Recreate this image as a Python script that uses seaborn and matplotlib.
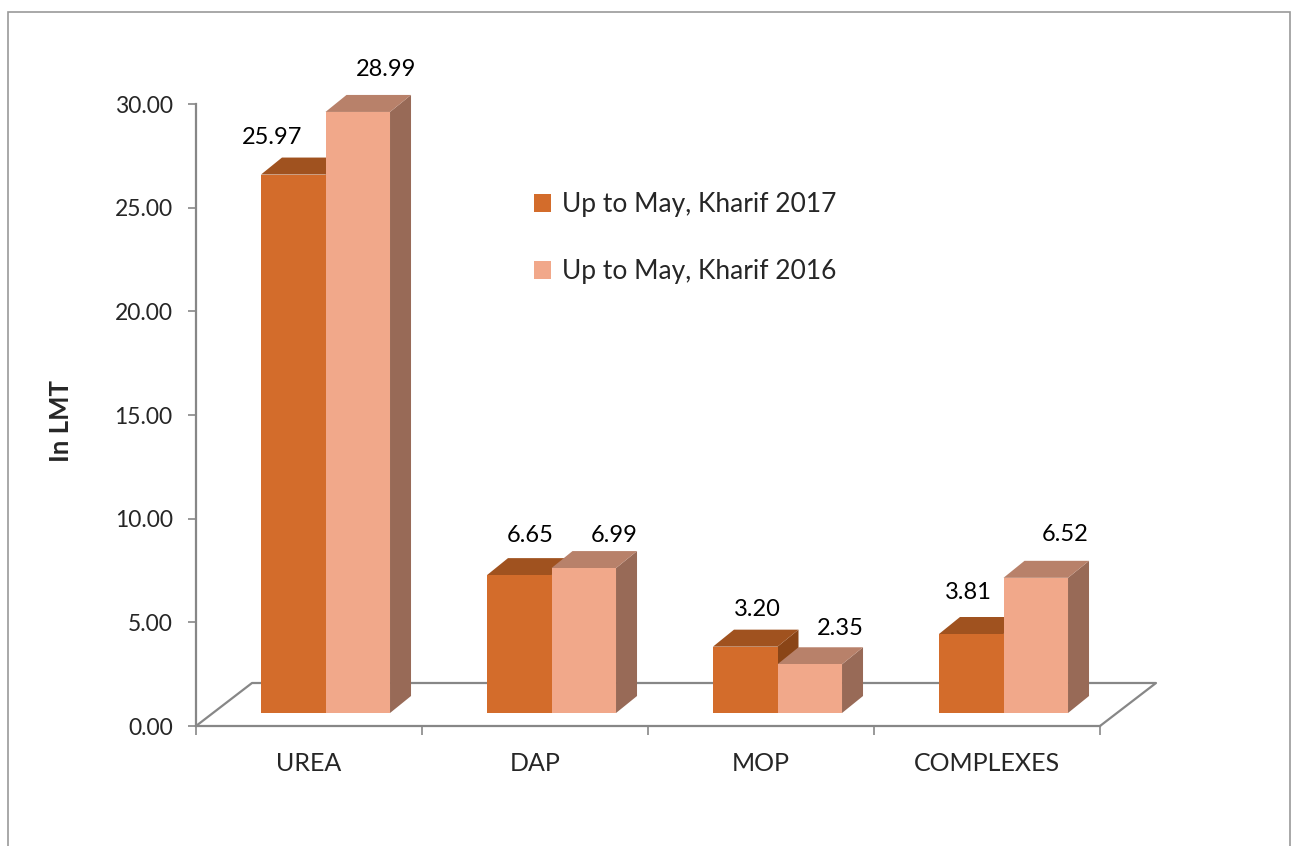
import matplotlib
matplotlib.use('Agg')
import matplotlib.pyplot as plt
import seaborn as sns
import pandas as pd
from matplotlib.patches import Polygon, Rectangle

# data
categories = ['UREA', 'DAP', 'MOP', 'COMPLEXES']
series_names = ['Up to May, Kharif 2017', 'Up to May, Kharif 2016']
kharif_2017 = [25.97, 6.65, 3.20, 3.81]
kharif_2016 = [28.99, 6.99, 2.35, 6.52]
y_ticks = [0, 5, 10, 15, 20, 25, 30]

# where excel dropped each value label, pixels from the bar's front top centre
label_nudge = [
    [(-21, 37), (11, 40), (12, 37), (-3, 42)],
    [(28, 42), (30, 33), (31, 36), (29, 43)],
]

FRONT = ['#D36C2B', '#F1A88A']
TOP = ['#A0521F', '#B8816A']
SIDE = ['#8A4517', '#986A57']
GREY = '#878787'

W, H = 1298, 846
sns.set_style('white')
plt.rcParams['font.family'] = ['Lato', 'DejaVu Sans']

fig = plt.figure(figsize=(W / 100, H / 100), dpi=100)
ax = fig.add_axes([196 / W, (H - 726) / H, 904 / W, 622 / H])

df = pd.DataFrame({
    'category': categories * 2,
    'value': kharif_2017 + kharif_2016,
    'series': [series_names[0]] * 4 + [series_names[1]] * 4,
})
sns.barplot(data=df, x='category', y='value', hue='series', palette=FRONT,
            width=0.571, saturation=1, linewidth=0, ax=ax)
ax.set_xlim(-0.5, 3.5)
ax.set_ylim(0, 30)

# pixel -> data units
ux = 4 / 904
uy = 30 / 622
sx, sy = 16.5 * ux, 13 * uy     # bars sit a bit back on the floor
dx, dy = 21 * ux, 17 * uy       # depth of each bar
fx, fy = 56 * ux, 43 * uy       # depth of the floor

# floor
ax.plot([-0.5, -0.5 + fx, 3.5 + fx, 3.5], [0, fy, fy, 0], color=GREY, lw=1.6,
        clip_on=False, zorder=1)

for k, cont in enumerate(ax.containers):
    for i, bar in enumerate(cont):
        z = 2 + 0.1 * (2 * i + k)
        x0 = bar.get_x() + sx
        w = bar.get_width()
        h = bar.get_height()
        bar.set_x(x0)
        bar.set_y(sy)
        bar.set_clip_on(False)
        bar.set_zorder(z + 0.05)
        side = [(x0 + w, sy), (x0 + w + dx, sy + dy), (x0 + w + dx, sy + h + dy), (x0 + w, sy + h)]
        top = [(x0, sy + h), (x0 + w, sy + h), (x0 + w + dx, sy + h + dy), (x0 + dx, sy + h + dy)]
        ax.add_patch(Polygon(side, closed=True, facecolor=SIDE[k], edgecolor='none', zorder=z, clip_on=False))
        ax.add_patch(Polygon(top, closed=True, facecolor=TOP[k], edgecolor='none', zorder=z + 0.01, clip_on=False))
        ax.annotate(f'{h:.2f}', xy=(x0 + w / 2, sy + h), xytext=label_nudge[k][i],
                    textcoords='offset pixels', ha='center', va='center',
                    fontsize=17, color='black', annotation_clip=False, zorder=10)

# axes styling
for s in ['top', 'right']:
    ax.spines[s].set_visible(False)
for s in ['left', 'bottom']:
    ax.spines[s].set_color(GREY)
    ax.spines[s].set_linewidth(1.6)
    ax.spines[s].set_zorder(1)

ax.set_yticks(y_ticks)
ax.set_yticklabels([f'{v:.2f}' for v in y_ticks])
ax.tick_params(axis='y', direction='out', length=5.8, width=1.2, color=GREY,
               pad=11, labelsize=16.5, left=True)
ax.set_xticks(range(len(categories)))
ax.set_xticklabels(categories)
ax.set_xticks([-0.5, 0.5, 1.5, 2.5, 3.5], minor=True)
ax.tick_params(axis='x', which='major', length=0, pad=19, labelsize=18)
ax.tick_params(axis='x', which='minor', direction='out', length=6.5, width=1.2,
               color=GREY, bottom=True)
ax.set_xlabel('')
ax.set_ylabel('')
fig.text(61 / W, 1 - 421 / H, 'In LMT', rotation=90, ha='center', va='center',
         fontsize=18.5, fontweight='bold')

handles = [Rectangle((0, 0), 1, 1, facecolor=c, edgecolor='none') for c in FRONT]
ax.legend(handles, series_names, loc='upper left', bbox_to_anchor=(534 / W, 1 - 192 / H),
          bbox_transform=fig.transFigure, frameon=False, fontsize=19,
          handlelength=0.65, handleheight=0.65, handletextpad=0.4,
          labelspacing=1.6, borderpad=0, borderaxespad=0)

# chart border
fig.add_artist(Rectangle((8 / W, -0.05), (1290 - 8) / W, (H - 12) / H + 0.05,
                         transform=fig.transFigure, fill=False, edgecolor='#9A9A9A',
                         lw=1.2, clip_on=False))

fig.savefig('out.png', dpi=100)
